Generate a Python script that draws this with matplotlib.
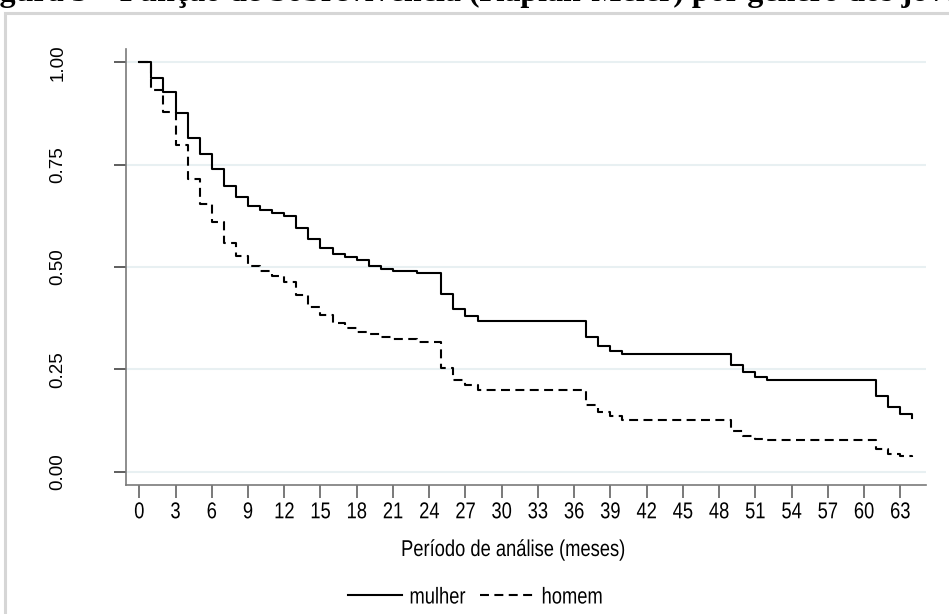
import matplotlib
matplotlib.use("Agg")
import matplotlib.pyplot as plt
from matplotlib import patheffects
from matplotlib.patches import Rectangle
from matplotlib.transforms import Affine2D

# Kaplan-Meier estimates (time in months)
mulher_t = [0, 1, 2, 3, 4, 5, 6, 7, 8, 9, 10, 11, 12, 13, 14, 15, 16, 17, 18, 19, 20, 21, 23,
            25, 26, 27, 28, 37, 38, 39, 40, 49, 50, 51, 52, 61, 62, 63, 64]
mulher_s = [1.0, 0.962, 0.928, 0.875, 0.816, 0.775, 0.740, 0.698, 0.671, 0.650, 0.638, 0.632,
            0.624, 0.596, 0.569, 0.546, 0.532, 0.524, 0.518, 0.503, 0.495, 0.491, 0.486,
            0.434, 0.398, 0.380, 0.368, 0.330, 0.308, 0.296, 0.287, 0.261, 0.244, 0.232, 0.224,
            0.185, 0.158, 0.141, 0.132]
homem_t = [0, 1, 2, 3, 4, 5, 6, 7, 8, 9, 10, 11, 12, 13, 14, 15, 16, 17, 18, 19, 20, 21, 23,
           25, 26, 27, 28, 37, 38, 39, 40, 49, 50, 51, 52, 61, 62, 63, 64]
homem_s = [1.0, 0.932, 0.879, 0.798, 0.716, 0.654, 0.609, 0.559, 0.527, 0.502, 0.491, 0.478,
           0.464, 0.432, 0.403, 0.383, 0.363, 0.350, 0.342, 0.337, 0.329, 0.324, 0.318,
           0.254, 0.224, 0.212, 0.200, 0.163, 0.147, 0.137, 0.127, 0.100, 0.088, 0.081, 0.078,
           0.056, 0.043, 0.039, 0.036]

x_ticks = list(range(0, 64, 3))
y_ticks = [0.0, 0.25, 0.5, 0.75, 1.0]
y_ticklabels = ["0.00", "0.25", "0.50", "0.75", "1.00"]
series_names = ["mulher", "homem"]
x_title = "Período de análise (meses)"
caption = "Figura 3 – Função de Sobrevivência (Kaplan-Meier) por gênero dos jovens"


class Squeeze(patheffects.AbstractPathEffect):
    """squash text horizontally, the graph was pasted narrower than it was drawn"""

    def __init__(self, sx=0.8, anchor="center"):
        super().__init__()
        self.sx = sx
        self.anchor = anchor

    def draw_path(self, renderer, gc, tpath, affine, rgbFace=None):
        ext = tpath.get_extents()
        cx = (ext.x0 + ext.x1) / 2 if self.anchor == "center" else ext.x0
        sq = Affine2D().translate(-cx, 0).scale(self.sx, 1).translate(cx, 0)
        renderer.draw_path(gc, tpath, sq + affine, rgbFace)


W, H = 949, 614
FS = 16.5
fig = plt.figure(figsize=(W / 100, H / 100), dpi=100)

# light frame of the graph region
fig.patches.append(Rectangle((5 / W, -0.1), 1.2, (H - 13) / H + 0.1, transform=fig.transFigure,
                             fill=False, ec="#d6d6d6", lw=2.2))

# caption, cut off at the top of the image like in the source
fig.text(-29 / W, 1 - 8 / H, caption, family="Liberation Serif", weight="bold",
         fontsize=23, ha="left", va="bottom")

ax = fig.add_axes([126 / W, 1 - 485 / H, 800 / W, 436 / H])
ax.step(mulher_t, mulher_s, where="post", color="black", lw=1.5, label=series_names[0])
ax.step(homem_t, homem_s, where="post", color="black", lw=1.5, dashes=(4.3, 2.6),
        label=series_names[1])

ax.set_xlim(-1.1, 65.13)
ax.set_ylim(-0.0324, 1.0324)
ax.set_xticks(x_ticks)
ax.set_yticks(y_ticks)
ax.set_yticklabels(y_ticklabels, rotation=90, va="center", family="Liberation Sans", fontsize=13.5)
for lab in ax.get_xticklabels():
    lab.set_family("Liberation Sans")
    lab.set_fontsize(FS)
    lab.set_path_effects([Squeeze(0.8)])
ax.tick_params(axis="y", length=9, width=1.1, color="#333333", pad=34)
ax.tick_params(axis="x", length=9, width=1.1, color="#555555", pad=2)

ax.grid(axis="y", color="#e8f0f2", lw=1.5)
ax.set_axisbelow(True)
for side in ["top", "right"]:
    ax.spines[side].set_visible(False)
for side in ["left", "bottom"]:
    ax.spines[side].set_color("#7a7a7a")
    ax.spines[side].set_linewidth(1.2)

xl = ax.set_xlabel(x_title, family="Liberation Sans", fontsize=FS)
xl.set_path_effects([Squeeze(0.8)])
ax.xaxis.set_label_coords((513 - 126) / 800, (485 - 538) / 436)

leg = fig.legend(loc="center", bbox_to_anchor=(483 / W, 1 - 597 / H), ncol=2, frameon=False,
                 prop={"family": "Liberation Sans", "size": FS}, handlelength=2.36,
                 columnspacing=0.05, handletextpad=0.3)
for t in leg.get_texts():
    t.set_path_effects([Squeeze(0.8, anchor="left")])

fig.savefig("out.png", dpi=100)
